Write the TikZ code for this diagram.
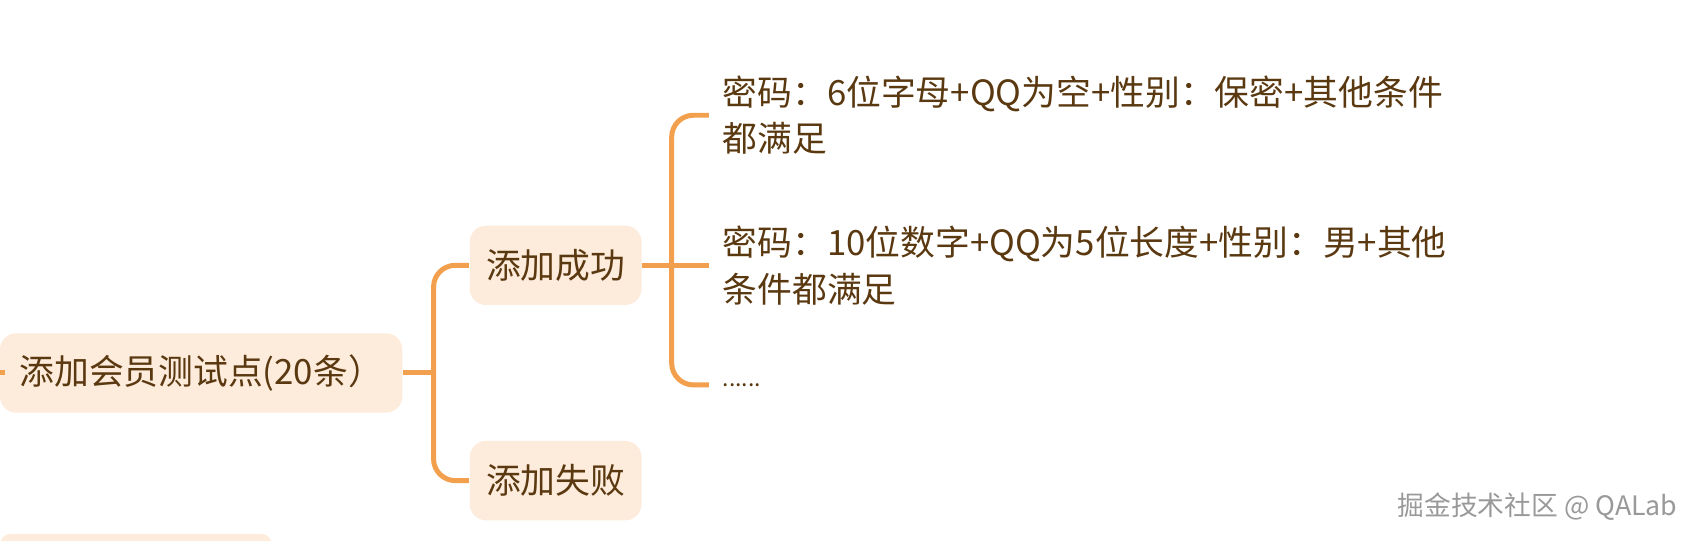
\documentclass[tikz,border=0pt]{standalone}
\usepackage{fontspec}
\setmainfont{Noto Sans CJK SC}
\usetikzlibrary{calc}
\definecolor{lineorange}{HTML}{F2A04E}
\definecolor{boxfill}{HTML}{FDEBDB}
\definecolor{inkbrown}{HTML}{5A3810}
\tikzset{
    topic/.style={fill=boxfill,rounded corners=0.15cm,text=inkbrown,font=\fontsize{9.1pt}{12.2pt}\selectfont,minimum height=0.73cm,inner sep=0pt},
    leaf/.style={anchor=west,text=inkbrown,font=\fontsize{9.1pt}{12.2pt}\selectfont,align=left,inner sep=0.12cm},
    branch/.style={draw=lineorange,line width=1.3pt,rounded corners=0.2cm},
}
\begin{document}
\begin{tikzpicture}
\useasboundingbox (0,0) rectangle (15.68,4.97);
% partial box at bottom edge
\fill[boxfill,rounded corners=0.1cm] (0,-0.2) rectangle (2.5,0.06);
\node[topic,minimum width=3.7cm] (root) at (1.85,1.54) {添加会员测试点(20条）};
\node[topic,minimum width=1.58cm] (ok) at (5.11,2.53) {添加成功};
\node[topic,minimum width=1.58cm] (fail) at (5.11,0.55) {添加失败};
\node[leaf] (c1) at (6.52,3.91) {密码：6位字母+QQ为空+性别：保密+其他条件\\都满足};
\node[leaf] (c2) at (6.52,2.53) {密码：10位数字+QQ为5位长度+性别：男+其他\\条件都满足};
\node[leaf] (c3) at (6.52,1.43) {\fontsize{6pt}{7pt}\selectfont......};
\coordinate (stub) at (0,1.54);
\coordinate (rj) at ($(root.east)+(0.28,0)$);
\coordinate (oj) at ($(ok.east)+(0.27,0)$);
% connectors
\draw[branch] (stub) -- ++(0.05,0);
\draw[branch] (root.east) -- (rj);
\draw[branch] (rj) |- (ok.west);
\draw[branch] (rj) |- (fail.west);
\draw[branch] (ok.east) -- (oj);
\draw[branch] (oj) |- (c1.west);
\draw[branch] (oj) -- (c2.west);
\draw[branch] (oj) |- (c3.west);
\node[text=gray!80,font=\fontsize{7pt}{8pt}\selectfont,anchor=east] (mark) at (15.55,0.31) {掘金技术社区 @ QALab};
\end{tikzpicture}
\end{document}
